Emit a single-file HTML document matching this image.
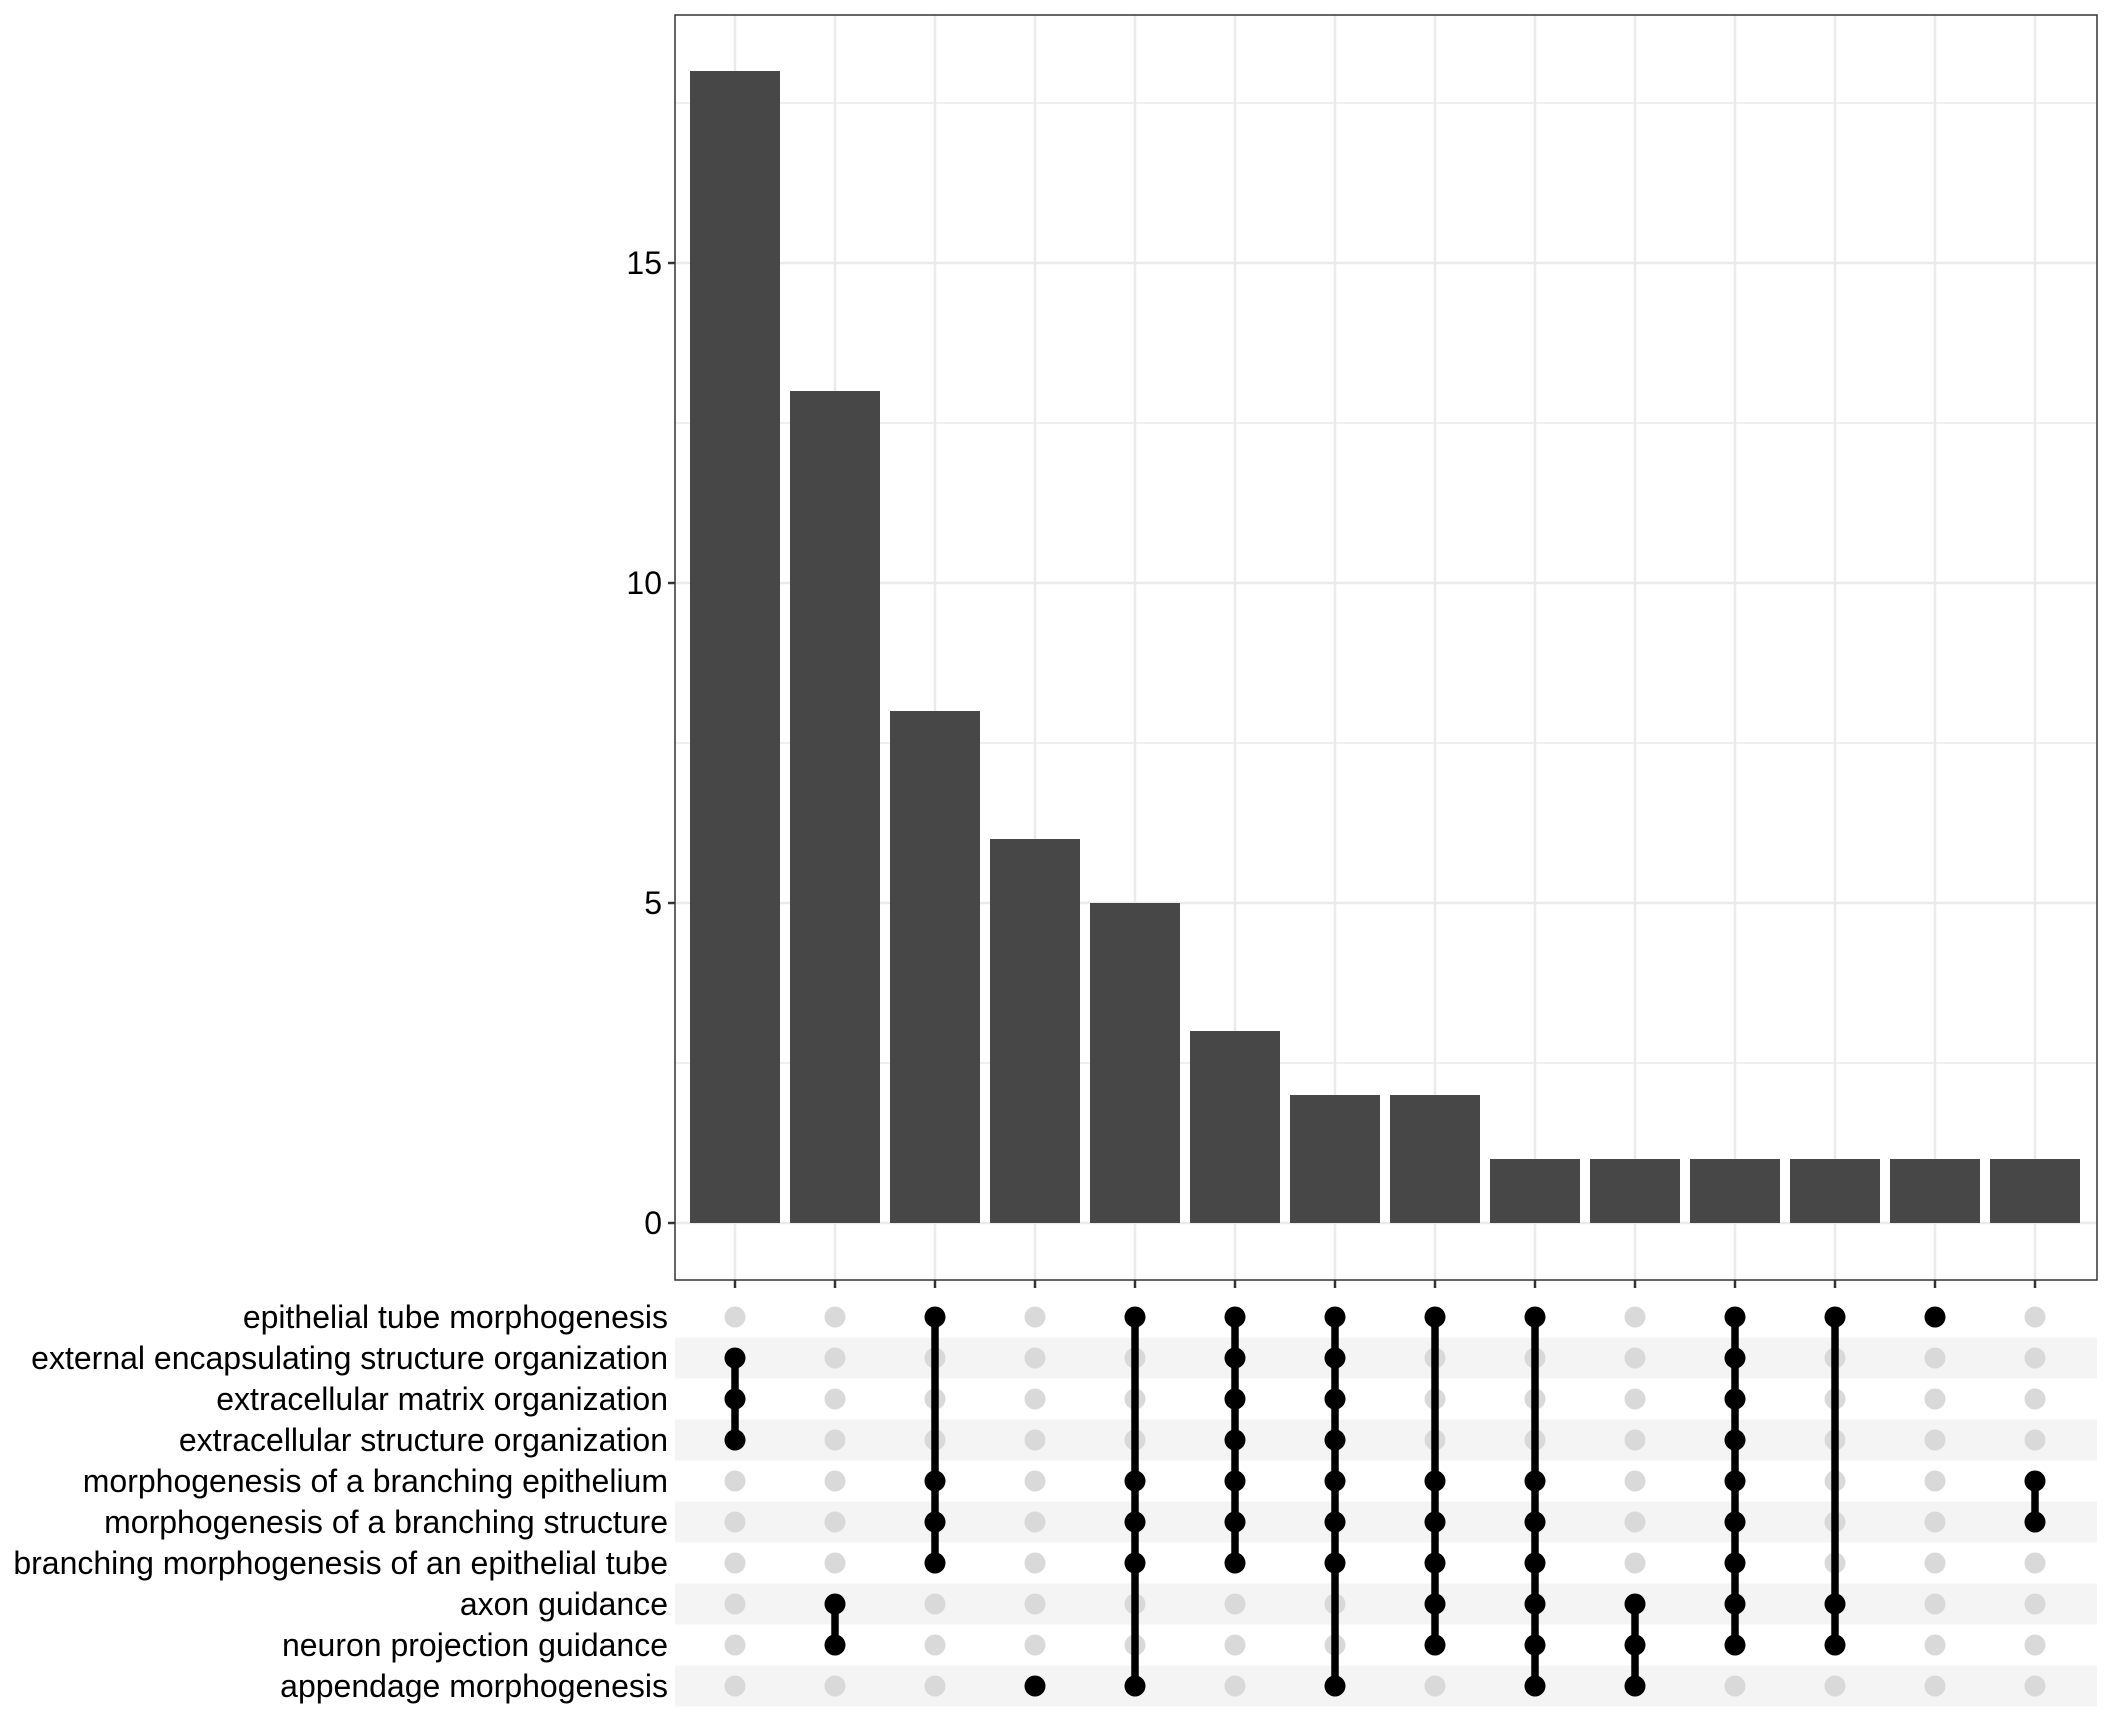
<!DOCTYPE html>
<html><head><meta charset="utf-8"><style>
html,body{margin:0;padding:0;background:#fff;}
svg{display:block;}
text{font-family:"Liberation Sans",Arial,sans-serif;fill:#000;}
</style></head><body>
<svg width="2112" height="1728" viewBox="0 0 2112 1728" xmlns="http://www.w3.org/2000/svg">
<rect width="2112" height="1728" fill="#fff"/>
<g stroke="#ebebeb">
<g stroke-width="1.5">
<line x1="675" x2="2097" y1="1063" y2="1063"/>
<line x1="675" x2="2097" y1="743" y2="743"/>
<line x1="675" x2="2097" y1="423" y2="423"/>
<line x1="675" x2="2097" y1="103" y2="103"/>
</g>
<g stroke-width="2.5">
<line x1="675" x2="2097" y1="1223" y2="1223"/>
<line x1="675" x2="2097" y1="903" y2="903"/>
<line x1="675" x2="2097" y1="583" y2="583"/>
<line x1="675" x2="2097" y1="263" y2="263"/>
</g>
<g stroke-width="2.5" id="vg"></g>
</g>
<g id="bars" fill="#474747"></g>
<rect x="675" y="15" width="1422" height="1265" fill="none" stroke="#333" stroke-width="1.5"/>
<g font-size="32" text-anchor="end">
<text x="662" y="1234">0</text>
<text x="662" y="914">5</text>
<text x="662" y="594">10</text>
<text x="662" y="274">15</text>
</g>
<g stroke="#333" stroke-width="2.5">
<line x1="668" x2="675" y1="1223" y2="1223"/>
<line x1="668" x2="675" y1="903" y2="903"/>
<line x1="668" x2="675" y1="583" y2="583"/>
<line x1="668" x2="675" y1="263" y2="263"/>
</g>
<g id="xt" stroke="#333" stroke-width="2.5"></g>
<g id="matrix"></g>
<g font-size="32" text-anchor="end" id="labels"></g>
</svg>
<script>
var NS="http://www.w3.org/2000/svg";
function el(p,t,a){var e=document.createElementNS(NS,t);for(var k in a)e.setAttribute(k,a[k]);p.appendChild(e);return e;}
var vg=document.getElementById('vg'),bars=document.getElementById('bars'),xt=document.getElementById('xt'),mx=document.getElementById('matrix'),lb=document.getElementById('labels');
var h=[18,13,8,6,5,3,2,2,1,1,1,1,1,1];
var sets=[[1,2,3],[7,8],[0,4,5,6],[9],[0,4,5,6,9],[0,1,2,3,4,5,6],[0,1,2,3,4,5,6,9],[0,4,5,6,7,8],[0,4,5,6,7,8,9],[7,8,9],[0,1,2,3,4,5,6,7,8],[0,7,8],[0],[4,5]];
var names=["epithelial tube morphogenesis","external encapsulating structure organization","extracellular matrix organization","extracellular structure organization","morphogenesis of a branching epithelium","morphogenesis of a branching structure","branching morphogenesis of an epithelial tube","axon guidance","neuron projection guidance","appendage morphogenesis"];
function ry(k){return 1317+41*k;}
for(var k=0;k<10;k++){ if(k%2==1) el(mx,'rect',{x:675,y:ry(k)-20.5,width:1422,height:41,fill:'#f4f4f4'});
 var t=el(lb,'text',{x:668,y:ry(k)+11});t.textContent=names[k];}
for(var i=0;i<14;i++){var x=735+100*i;
 el(vg,'line',{x1:x,x2:x,y1:15,y2:1280});
 el(bars,'rect',{x:x-45,y:1223-64*h[i],width:90,height:64*h[i]});
 el(xt,'line',{x1:x,x2:x,y1:1280,y2:1288});
 for(var k=0;k<10;k++) el(mx,'circle',{cx:x,cy:ry(k),r:10.5,fill:'#d9d9d9'});
 var s=sets[i];
 if(s.length>1) el(mx,'line',{x1:x,x2:x,y1:ry(s[0]),y2:ry(s[s.length-1]),stroke:'#000','stroke-width':7.5});
 s.forEach(function(k){el(mx,'circle',{cx:x,cy:ry(k),r:10.5,fill:'#000'});});
}
</script>
</body></html>
